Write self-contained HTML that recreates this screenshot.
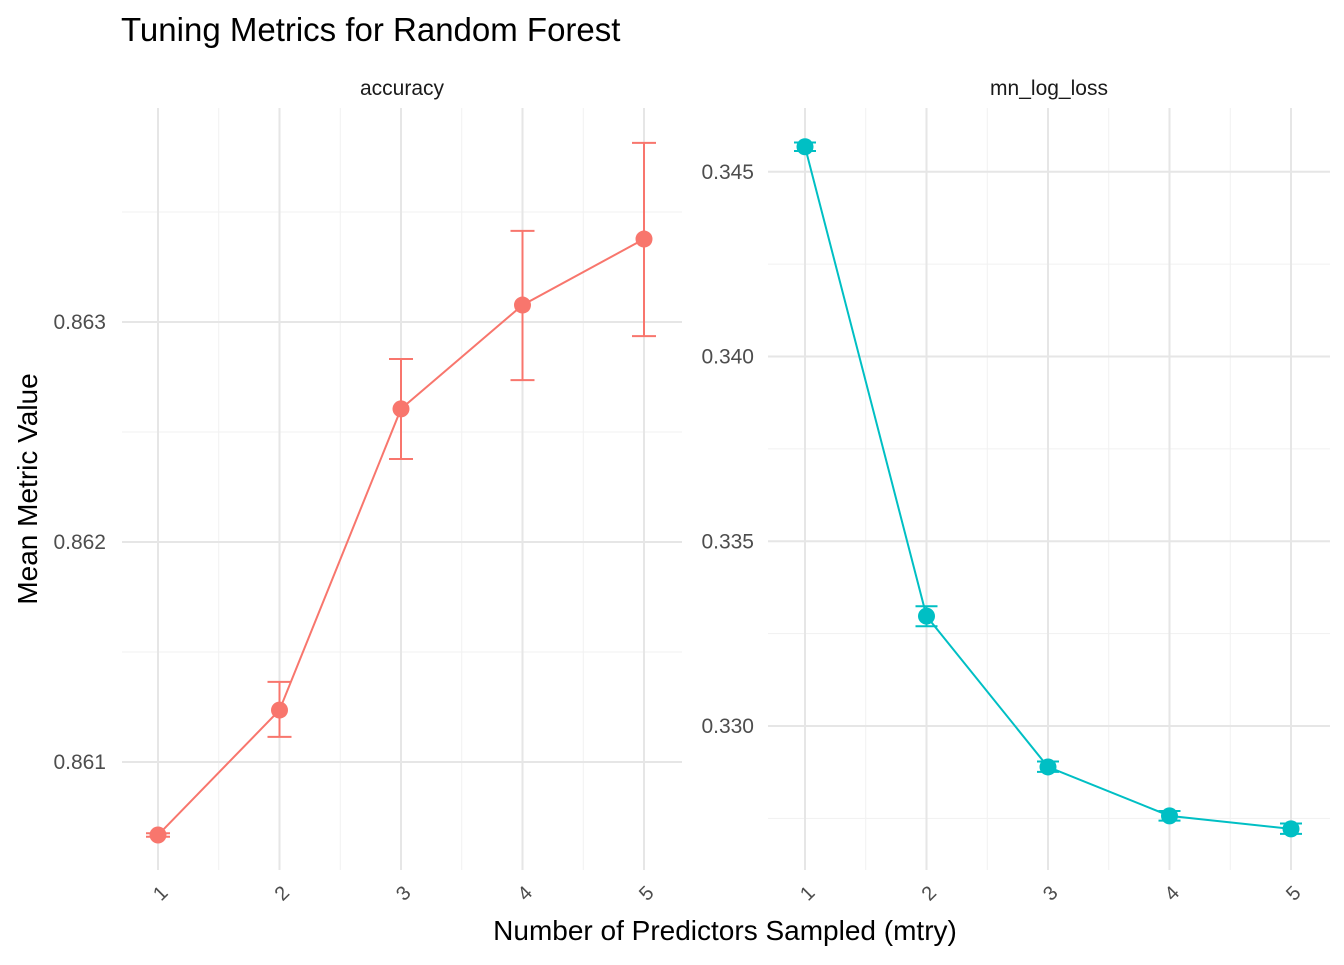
<!DOCTYPE html>
<html><head><meta charset="utf-8"><style>
body{margin:0;background:#fff;}
svg text{font-family:"Liberation Sans",Arial,sans-serif;}
</style></head><body>
<svg id="chart" width="1344" height="960" xmlns="http://www.w3.org/2000/svg">
<rect width="1344" height="960" fill="#fff"/>
<text x="121" y="41" font-size="33" fill="#000">Tuning Metrics for Random Forest</text>
<text x="725" y="940" font-size="28" text-anchor="middle" fill="#000">Number of Predictors Sampled (mtry)</text>
<text transform="translate(37,489) rotate(-90)" font-size="28" text-anchor="middle" fill="#000">Mean Metric Value</text>
<g id="panels"></g>
</svg>
<script>
const mtry = [1,2,3,4,5];
const accMean = [0.860668,0.861236,0.862605,0.863077,0.863377];
const accLo = [0.860660,0.861114,0.862377,0.862736,0.862936];
const accHi = [0.860676,0.861364,0.862832,0.863414,0.863814];
const llMean = [0.345676,0.332973,0.328892,0.327568,0.327216];
const llLo = [0.345560,0.332700,0.328760,0.327440,0.327080];
const llHi = [0.345790,0.333240,0.329040,0.327700,0.327360];
const accTicks = [0.861,0.862,0.863];
const llTicks = [0.330,0.335,0.340,0.345];
const NS="http://www.w3.org/2000/svg";
const g=document.getElementById('panels');
function mk(tag,attrs,parent){const e=document.createElementNS(NS,tag);for(const k in attrs)e.setAttribute(k,attrs[k]);(parent||g).appendChild(e);return e;}
function panel(name,px0,px1,xA,xStep,yRef,yRefPx,pxPerUnit,ticks,minorStep,mean,lo,hi,color,strip,labelX,cap){
  const top=108,bot=870;
  const X=v=>xA+(v-1)*xStep;
  const Y=v=>yRefPx-(v-yRef)*pxPerUnit;
  const grp=mk('g',{});
  
  
  const vmin=yRef+(yRefPx-bot)/pxPerUnit, vmax=yRef+(yRefPx-top)/pxPerUnit;
  const start=Math.ceil(vmin/minorStep)*minorStep;
  for(let v=start;v<=vmax;v+=minorStep){mk('line',{x1:px0,x2:px1,y1:Y(v),y2:Y(v),stroke:'#f1f1f1','stroke-width':1},grp);}
  for(let i=0;i<=mtry.length;i++){const xv=X(mtry[0]-0.5+i);if(xv>px0&&xv<px1)mk('line',{x1:xv,x2:xv,y1:top,y2:bot,stroke:'#f1f1f1','stroke-width':1},grp);}
  ticks.forEach(t=>{mk('line',{x1:px0,x2:px1,y1:Y(t),y2:Y(t),stroke:'#e6e6e6','stroke-width':2},grp);
    const tx=mk('text',{x:labelX,y:Y(t)+7,'font-size':21,'text-anchor':'end',fill:'#4d4d4d'},grp);tx.textContent=t.toFixed(3);
    
    });
  mtry.forEach(m=>{mk('line',{x1:X(m),x2:X(m),y1:top,y2:bot,stroke:'#e6e6e6','stroke-width':2},grp);
    const tx=mk('text',{transform:`translate(${X(m)+7},${898}) rotate(-45)`,'font-size':20,'text-anchor':'middle',fill:'#4d4d4d'},grp);tx.textContent=m;
    
    });
  const st=mk('text',{x:(px0+px1)/2,y:95,'font-size':21,'text-anchor':'middle',fill:'#1a1a1a'},grp);st.textContent=strip;
  
  
  mk('polyline',{points:mtry.map((m,i)=>X(m)+','+Y(mean[i])).join(' '),fill:'none',stroke:color,'stroke-width':2},grp);
  mtry.forEach((m,i)=>{
    const e=mk('path',{d:`M${X(m)-cap},${Y(hi[i])}H${X(m)+cap}M${X(m)},${Y(hi[i])}V${Y(lo[i])}M${X(m)-cap},${Y(lo[i])}H${X(m)+cap}`,stroke:color,'stroke-width':2,fill:'none'},grp);
    
    
    const c=mk('circle',{cx:X(m),cy:Y(mean[i]),r:8.5,fill:color},grp);
    
    
  });
}
panel('accuracy',122,682,158,121.5,0.861,762,220000,accTicks,0.0005,accMean,accLo,accHi,'#F8766D','accuracy',106,12);
panel('log-loss',768,1330,805,121.5,0.330,726,36950,llTicks,0.0025,llMean,llLo,llHi,'#00BFC4','mn_log_loss',754,11);
</script>
</body></html>
